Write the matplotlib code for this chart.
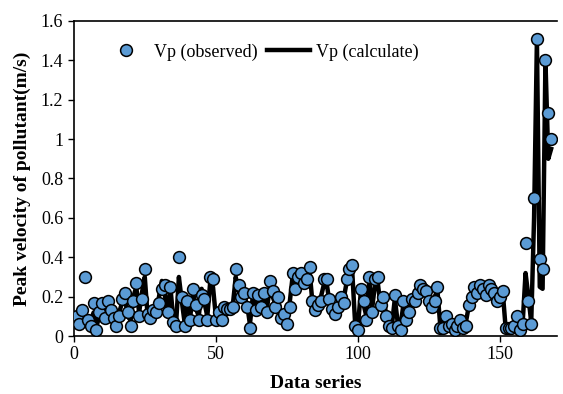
import numpy as np
import matplotlib.pyplot as plt

plt.rcParams.update({
    'font.family': ['Liberation Serif', 'DejaVu Serif'],
    'font.size': 13,
})

# observed peak velocity, data series 1..168
vp_obs = [
    0.10, 0.06, 0.13, 0.30, 0.08, 0.05, 0.17, 0.03, 0.12, 0.17,
    0.09, 0.18, 0.13, 0.09, 0.05, 0.10, 0.19, 0.22, 0.12, 0.05,
    0.18, 0.27, 0.10, 0.19, 0.34, 0.11, 0.09, 0.13, 0.12, 0.17,
    0.24, 0.26, 0.12, 0.25, 0.07, 0.05, 0.40, 0.20, 0.05, 0.18,
    0.08, 0.24, 0.16, 0.08, 0.21, 0.19, 0.08, 0.30, 0.29, 0.08,
    0.12, 0.08, 0.15, 0.14, 0.14, 0.15, 0.34, 0.26, 0.20, 0.22,
    0.15, 0.04, 0.22, 0.13, 0.21, 0.15, 0.22, 0.12, 0.28, 0.23,
    0.15, 0.20, 0.09, 0.11, 0.06, 0.15, 0.32, 0.24, 0.30, 0.32,
    0.27, 0.29, 0.35, 0.18, 0.13, 0.16, 0.18, 0.29, 0.29, 0.19,
    0.14, 0.11, 0.15, 0.20, 0.17, 0.29, 0.34, 0.36, 0.05, 0.03,
    0.24, 0.18, 0.08, 0.30, 0.12, 0.29, 0.30, 0.16, 0.20, 0.10,
    0.05, 0.04, 0.21, 0.05, 0.03, 0.18, 0.08, 0.12, 0.19, 0.18,
    0.22, 0.26, 0.24, 0.23, 0.18, 0.15, 0.18, 0.25, 0.04, 0.04,
    0.10, 0.05, 0.06, 0.03, 0.05, 0.08, 0.04, 0.05, 0.16, 0.20,
    0.25, 0.22, 0.26, 0.24, 0.21, 0.26, 0.24, 0.22, 0.18, 0.20,
    0.23, 0.04, 0.04, 0.04, 0.05, 0.10, 0.03, 0.06, 0.47, 0.18,
    0.06, 0.70, 1.51, 0.39, 0.34, 1.40, 1.13, 1.00,
]

# calculated peak velocity, data series 1..168
vp_calc = [
    0.08, 0.10, 0.14, 0.10, 0.06, 0.08, 0.12, 0.05, 0.10, 0.15,
    0.08, 0.15, 0.11, 0.08, 0.07, 0.12, 0.17, 0.20, 0.10, 0.08,
    0.20, 0.25, 0.12, 0.22, 0.30, 0.10, 0.10, 0.15, 0.10, 0.20,
    0.28, 0.22, 0.10, 0.25, 0.09, 0.06, 0.30, 0.18, 0.07, 0.20,
    0.10, 0.22, 0.14, 0.10, 0.24, 0.17, 0.10, 0.27, 0.25, 0.10,
    0.14, 0.10, 0.16, 0.15, 0.15, 0.16, 0.30, 0.23, 0.18, 0.20,
    0.16, 0.06, 0.20, 0.15, 0.22, 0.16, 0.20, 0.14, 0.25, 0.20,
    0.16, 0.18, 0.10, 0.12, 0.08, 0.17, 0.30, 0.22, 0.27, 0.30,
    0.25, 0.27, 0.33, 0.17, 0.14, 0.18, 0.20, 0.26, 0.27, 0.17,
    0.15, 0.12, 0.17, 0.18, 0.19, 0.27, 0.31, 0.33, 0.07, 0.05,
    0.22, 0.16, 0.10, 0.28, 0.14, 0.26, 0.27, 0.15, 0.18, 0.11,
    0.07, 0.06, 0.19, 0.07, 0.05, 0.16, 0.10, 0.14, 0.17, 0.20,
    0.20, 0.24, 0.22, 0.21, 0.17, 0.16, 0.20, 0.23, 0.05, 0.06,
    0.12, 0.07, 0.08, 0.05, 0.07, 0.10, 0.06, 0.07, 0.15, 0.18,
    0.23, 0.21, 0.24, 0.22, 0.20, 0.24, 0.22, 0.21, 0.17, 0.19,
    0.22, 0.04, 0.04, 0.04, 0.05, 0.08, 0.04, 0.07, 0.32, 0.20,
    0.07, 0.60, 1.51, 0.25, 0.24, 1.40, 0.90, 0.95,
]

series = np.arange(1, len(vp_obs) + 1)

fig = plt.figure(figsize=(5.63, 3.94), dpi=100)
ax = fig.add_axes([0.131, 0.147, 0.858, 0.800])

ax.plot(series, vp_calc, color='black', linewidth=3.2, zorder=2,
        label='Vp (calculate)')
ax.plot(series, vp_obs, linestyle='none', marker='o', markersize=8.5,
        markerfacecolor='#5B9BD5', markeredgecolor='black',
        markeredgewidth=1.1, zorder=3, label='Vp (observed)')

ax.set_xlim(0, 170)
ax.set_ylim(0, 1.6)
ax.set_xticks([0, 50, 100, 150])
ax.set_yticks(np.arange(0, 1.61, 0.2))
ax.set_yticklabels(['0', '0.2', '0.4', '0.6', '0.8', '1', '1.2', '1.4', '1.6'])
ax.tick_params(direction='out', length=4, width=1)
ax.spines['right'].set_visible(False)
for s in ['left', 'bottom', 'top']:
    ax.spines[s].set_linewidth(1.2)

ax.set_xlabel('Data series', fontweight='bold', fontsize=14, labelpad=8)
ax.set_ylabel('Peak velocity of pollutant(m/s)', fontweight='bold',
              fontsize=14, labelpad=7)

h, l = ax.get_legend_handles_labels()
ax.legend(h[::-1], l[::-1], ncol=2, frameon=False, fontsize=13,
          loc='upper left', bbox_to_anchor=(0.03, 0.98),
          handlelength=2.4, columnspacing=0.5, handletextpad=0.35)

fig.savefig('out.png', dpi=100)
